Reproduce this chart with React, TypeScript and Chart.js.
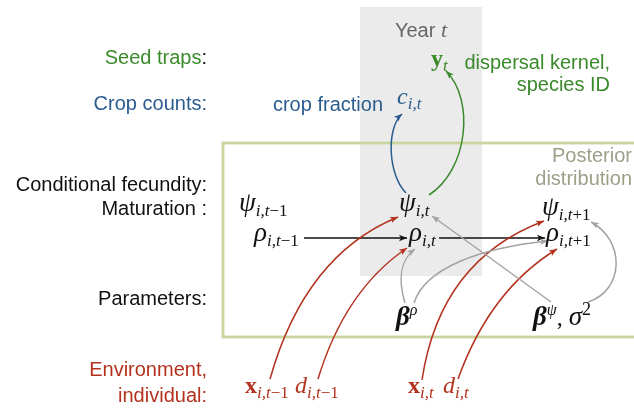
import React, { useEffect, useRef } from "react";
import { Chart, registerables } from "chart.js";

Chart.register(...registerables);

const W = 634;
const H = 410;

const SANS = '"Liberation Sans", Arial, Helvetica, sans-serif';
const SERIF = '"Liberation Serif", "Times New Roman", serif';

// ---- colours ----
const GREEN = "#3a8a2c";
const BLUE = "#2b5c8e";
const RED = "#b3321e";
const BLACK = "#111111";
const GRAY = "#a3a3a3";
const OLIVE = "#9d9f88";
const YEARGRAY = "#666666";

// ---- text styles: font + baseline shift ----
const STYLES: Record<string, { font: string; dy: number }> = {
  sans: { font: `20px ${SANS}`, dy: 0 },
  mi: { font: `italic 24px ${SERIF}`, dy: 0 },
  mg: { font: `italic 27px ${SERIF}`, dy: 0 },
  mr: { font: `24px ${SERIF}`, dy: 0 },
  mb: { font: `bold 24px ${SERIF}`, dy: 0 },
  mbi: { font: `italic bold 27px ${SERIF}`, dy: 0 },
  si: { font: `italic 17px ${SERIF}`, dy: 5 },
  sr: { font: `17px ${SERIF}`, dy: 5 },
  pi: { font: `italic 16px ${SERIF}`, dy: -10 },
  pr: { font: `18px ${SERIF}`, dy: -10 },
  ti: { font: `italic 22px ${SERIF}`, dy: 0 },
};

type Seg = [string, string, string?];

// ---- row labels (left column) ----
const rowLabelSegs: Seg[][] = [
  [["Seed traps", "sans", GREEN], [":", "sans", BLACK]],
  [["Crop counts:", "sans", BLUE]],
  [["Conditional fecundity:", "sans", BLACK]],
  [["Maturation :", "sans", BLACK]],
  [["Parameters:", "sans", BLACK]],
  [["Environment,", "sans", RED]],
  [["individual:", "sans", RED]],
];
const rowLabelX = [207, 207, 207, 207, 207, 207, 207];
const rowLabelY = [64, 110, 191, 215, 305, 376, 402];

// ---- annotations ----
const noteSegs: Seg[][] = [
  [["Year ", "sans", YEARGRAY], ["t", "ti", YEARGRAY]],
  [["dispersal kernel,", "sans", GREEN]],
  [["species ID", "sans", GREEN]],
  [["crop fraction", "sans", BLUE]],
  [["Posterior", "sans", OLIVE]],
  [["distribution", "sans", OLIVE]],
];
const noteX = [421, 610, 610, 383, 632, 632];
const noteY = [37, 69, 91, 111, 162, 185];
const noteAlign = ["center", "right", "right", "right", "right", "right"];

// ---- model nodes ----
const nodeSegs: Seg[][] = [
  [["y", "mb"], ["t", "si"]],
  [["c", "mi"], ["i,t", "si"]],
  [["ψ", "mg"], ["i,t", "si"], ["−1", "sr"]],
  [["ψ", "mg"], ["i,t", "si"]],
  [["ψ", "mg"], ["i,t", "si"], ["+1", "sr"]],
  [["ρ", "mg"], ["i,t", "si"], ["−1", "sr"]],
  [["ρ", "mg"], ["i,t", "si"]],
  [["ρ", "mg"], ["i,t", "si"], ["+1", "sr"]],
  [["β", "mbi"], ["ρ", "pi"]],
  [["β", "mbi"], ["ψ", "pi"], [", ", "mr"], ["σ", "mg"], ["2", "pr"]],
  [["x", "mb"], ["i,t", "si"], ["−1", "sr"]],
  [["d", "mi"], ["i,t", "si"], ["−1", "sr"]],
  [["x", "mb"], ["i,t", "si"]],
  [["d", "mi"], ["i,t", "si"]],
];
const nodeColor = [GREEN, BLUE, BLACK, BLACK, BLACK, BLACK, BLACK, BLACK, BLACK, BLACK, RED, RED, RED, RED];
const nodeX = [431, 397, 239, 399, 542, 254, 409, 546, 396, 533, 245, 295, 408, 443];
const nodeY = [66, 104, 211, 211, 215, 241, 241, 241, 325, 325, 393, 393, 393, 393];

// ---- arrows (start, control points..., end) ----
const edgePoints: number[][][] = [
  [[304, 238], [407, 238]],
  [[439, 238], [545, 238]],
  [[406, 193], [388, 175], [386, 128], [402, 114]],
  [[429, 195], [468, 170], [475, 100], [446, 71]],
  [[270, 379], [305, 255], [398, 217]],
  [[318, 379], [345, 290], [407, 248]],
  [[422, 380], [440, 260], [544, 221]],
  [[458, 379], [490, 290], [557, 249]],
  [[405, 303], [398, 280], [400, 260], [415, 249]],
  [[414, 303], [425, 268], [480, 248], [548, 241]],
  [[551, 302], [432, 216]],
  [[588, 302], [625, 290], [625, 240], [591, 222]],
];
const edgeColor = [BLACK, BLACK, BLUE, GREEN, RED, RED, RED, RED, GRAY, GRAY, GRAY, GRAY];

// ---- regions ----
const yearBand = [360, 7, 482, 276];
const posteriorBox = [223, 143, 642, 337];

function drawSegs(ctx: CanvasRenderingContext2D, segs: Seg[], x: number, y: number, align: string, color: string) {
  let total = 0;
  const widths: number[] = [];
  for (const s of segs) {
    ctx.font = STYLES[s[1]].font;
    const w = ctx.measureText(s[0]).width;
    widths.push(w);
    total += w;
  }
  let cx = align === "right" ? x - total : align === "center" ? x - total / 2 : x;
  segs.forEach((s, i) => {
    const st = STYLES[s[1]];
    ctx.font = st.font;
    ctx.fillStyle = s[2] || color;
    ctx.fillText(s[0], cx, y + st.dy);
    cx += widths[i];
  });
}

const diagramPlugin = {
  id: "diagram",
  beforeDatasetsDraw(chart: any) {
    const ctx: CanvasRenderingContext2D = chart.ctx;
    const sx = chart.scales.x;
    const sy = chart.scales.y;
    const X = (v: number) => sx.getPixelForValue(v);
    const Y = (v: number) => sy.getPixelForValue(v);
    ctx.save();
    ctx.fillStyle = "#ebebeb";
    ctx.fillRect(X(yearBand[0]), Y(yearBand[1]), X(yearBand[2]) - X(yearBand[0]), Y(yearBand[3]) - Y(yearBand[1]));
    ctx.strokeStyle = "#c8d59e";
    ctx.lineWidth = 2.8;
    ctx.strokeRect(X(posteriorBox[0]), Y(posteriorBox[1]), X(posteriorBox[2]) - X(posteriorBox[0]), Y(posteriorBox[3]) - Y(posteriorBox[1]));

    // arrows
    edgePoints.forEach((pts, i) => {
      const p = pts.map(([a, b]) => [X(a), Y(b)]);
      ctx.strokeStyle = edgeColor[i];
      ctx.fillStyle = edgeColor[i];
      ctx.lineWidth = 1.5;
      ctx.beginPath();
      ctx.moveTo(p[0][0], p[0][1]);
      if (p.length === 2) ctx.lineTo(p[1][0], p[1][1]);
      else if (p.length === 3) ctx.quadraticCurveTo(p[1][0], p[1][1], p[2][0], p[2][1]);
      else ctx.bezierCurveTo(p[1][0], p[1][1], p[2][0], p[2][1], p[3][0], p[3][1]);
      ctx.stroke();
      const end = p[p.length - 1];
      const prev = p[p.length - 2];
      let dx = end[0] - prev[0];
      let dy = end[1] - prev[1];
      const len = Math.hypot(dx, dy) || 1;
      dx /= len;
      dy /= len;
      const L = 8;
      const hw = 3.2;
      ctx.beginPath();
      ctx.moveTo(end[0], end[1]);
      ctx.lineTo(end[0] - dx * L - dy * hw, end[1] - dy * L + dx * hw);
      ctx.lineTo(end[0] - dx * L * 0.75, end[1] - dy * L * 0.75);
      ctx.lineTo(end[0] - dx * L + dy * hw, end[1] - dy * L - dx * hw);
      ctx.closePath();
      ctx.fill();
    });

    ctx.textBaseline = "alphabetic";
    ctx.textAlign = "left";
    rowLabelSegs.forEach((segs, i) => drawSegs(ctx, segs, X(rowLabelX[i]), Y(rowLabelY[i]), "right", BLACK));
    noteSegs.forEach((segs, i) => drawSegs(ctx, segs, X(noteX[i]), Y(noteY[i]), noteAlign[i], BLACK));
    nodeSegs.forEach((segs, i) => drawSegs(ctx, segs, X(nodeX[i]), Y(nodeY[i]), "left", nodeColor[i]));
    ctx.restore();
  },
};

export default function App() {
  const ref = useRef<HTMLCanvasElement | null>(null);
  useEffect(() => {
    if (!ref.current) return;
    const chart = new Chart(ref.current, {
      type: "scatter",
      data: {
        datasets: [
          {
            data: nodeX.map((x, i) => ({ x, y: nodeY[i] })),
            pointRadius: 0,
            pointHoverRadius: 0,
            showLine: false,
          },
        ],
      },
      options: {
        responsive: false,
        animation: false,
        devicePixelRatio: 1,
        layout: { padding: 0 },
        plugins: { legend: { display: false }, tooltip: { enabled: false } },
        events: [],
        scales: {
          x: { type: "linear", min: 0, max: W, display: false },
          y: { type: "linear", min: 0, max: H, reverse: true, display: false },
        },
      },
      plugins: [diagramPlugin],
    });
    return () => chart.destroy();
  }, []);
  return (
    <div style={{ position: "absolute", left: 0, top: 0, width: W, height: H, background: "#fff" }}>
      <canvas ref={ref} width={W} height={H} style={{ width: W, height: H, display: "block" }} />
    </div>
  );
}
